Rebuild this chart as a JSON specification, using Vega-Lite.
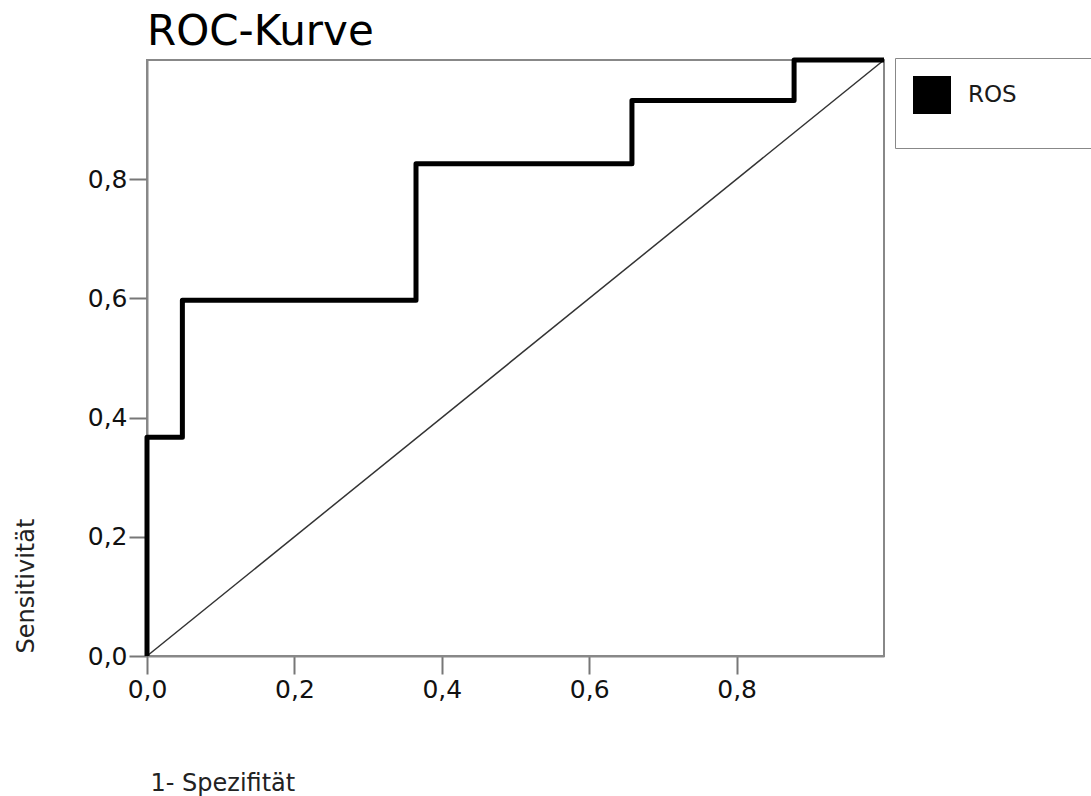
{
  "$schema": "https://vega.github.io/schema/vega-lite/v6.json",
  "width": 737,
  "height": 596,
  "autosize": "none",
  "padding": {"left": 147, "top": 60, "right": 207, "bottom": 140},
  "background": "white",
  "title": {
    "text": "ROC-Kurve",
    "anchor": "start",
    "frame": "group",
    "font": "DejaVu Sans",
    "fontSize": 42,
    "fontWeight": "normal",
    "color": "black",
    "baseline": "alphabetic",
    "offset": 11,
    "dx": 0,
    "dy": 41
  },
  "config": {
    "font": "DejaVu Sans",
    "view": {"stroke": "#888888", "strokeWidth": 2},
    "axis": {
      "domainColor": "#888888",
      "domainWidth": 2,
      "tickColor": "#777777",
      "tickWidth": 2,
      "tickSize": 18,
      "grid": false,
      "labelFlush": false,
      "labelFont": "DejaVu Sans",
      "labelFontSize": 25,
      "labelColor": "#111111",
      "titleFont": "DejaVu Sans",
      "titleFontSize": 24,
      "titleFontWeight": "normal",
      "titleColor": "#222222"
    }
  },
  "layer": [
    {
      "data": {"values": [
        {"fpr": 0, "tpr": 0},
        {"fpr": 1, "tpr": 1}
      ]},
      "mark": {"type": "line", "color": "#333333", "strokeWidth": 1.5},
      "encoding": {
        "x": {"field": "fpr", "type": "quantitative"},
        "y": {"field": "tpr", "type": "quantitative"}
      }
    },
    {
      "data": {"values": [
        {"series": "ROS", "step": 1, "fpr": 0.0, "tpr": 0.0},
        {"series": "ROS", "step": 2, "fpr": 0.0, "tpr": 0.367},
        {"series": "ROS", "step": 3, "fpr": 0.048, "tpr": 0.367},
        {"series": "ROS", "step": 4, "fpr": 0.048, "tpr": 0.597},
        {"series": "ROS", "step": 5, "fpr": 0.365, "tpr": 0.597},
        {"series": "ROS", "step": 6, "fpr": 0.365, "tpr": 0.826},
        {"series": "ROS", "step": 7, "fpr": 0.658, "tpr": 0.826},
        {"series": "ROS", "step": 8, "fpr": 0.658, "tpr": 0.932},
        {"series": "ROS", "step": 9, "fpr": 0.878, "tpr": 0.932},
        {"series": "ROS", "step": 10, "fpr": 0.878, "tpr": 1.0},
        {"series": "ROS", "step": 11, "fpr": 1.0, "tpr": 1.0}
      ]},
      "mark": {"type": "line", "strokeWidth": 5, "strokeJoin": "round"},
      "encoding": {
        "x": {
          "field": "fpr", "type": "quantitative",
          "scale": {"domain": [0, 1], "nice": false, "zero": true},
          "axis": {
            "values": [0, 0.2, 0.4, 0.6, 0.8],
            "format": ".1f",
            "labelExpr": "replace(datum.label, '.', ',')",
            "labelPadding": 3,
            "title": "1- Spezifität",
            "titleAnchor": "start",
            "titleAlign": "left",
            "titleBaseline": "alphabetic",
            "titleX": 3,
            "titleY": 134
          }
        },
        "y": {
          "field": "tpr", "type": "quantitative",
          "scale": {"domain": [0, 1], "nice": false, "zero": true},
          "axis": {
            "values": [0, 0.2, 0.4, 0.6, 0.8],
            "format": ".1f",
            "labelExpr": "replace(datum.label, '.', ',')",
            "labelPadding": 2,
            "title": "Sensitivität",
            "titleAngle": 270,
            "titleAlign": "left",
            "titleBaseline": "alphabetic",
            "titleX": -114,
            "titleY": 593
          }
        },
        "order": {"field": "step", "type": "quantitative"},
        "color": {
          "field": "series", "type": "nominal",
          "scale": {"domain": ["ROS"], "range": ["black"]},
          "legend": {
            "orient": "none",
            "legendX": 748,
            "legendY": -2,
            "title": " ",
            "titleOrient": "bottom",
            "titleFontSize": 14,
            "titlePadding": 2,
            "padding": 18,
            "strokeColor": "#888888",
            "fillColor": "white",
            "symbolType": "square",
            "symbolSize": 1444,
            "symbolFillColor": "black",
            "symbolStrokeColor": "black",
            "symbolStrokeWidth": 0,
            "symbolCornerRadius": 3,
            "labelFont": "DejaVu Sans",
            "labelFontSize": 23,
            "labelColor": "#1a1a1a",
            "labelOffset": 17,
            "labelLimit": 400,
            "labelExpr": "datum.label + '\u2800\u2800\u2800\u2800'"
          }
        }
      }
    }
  ]
}
